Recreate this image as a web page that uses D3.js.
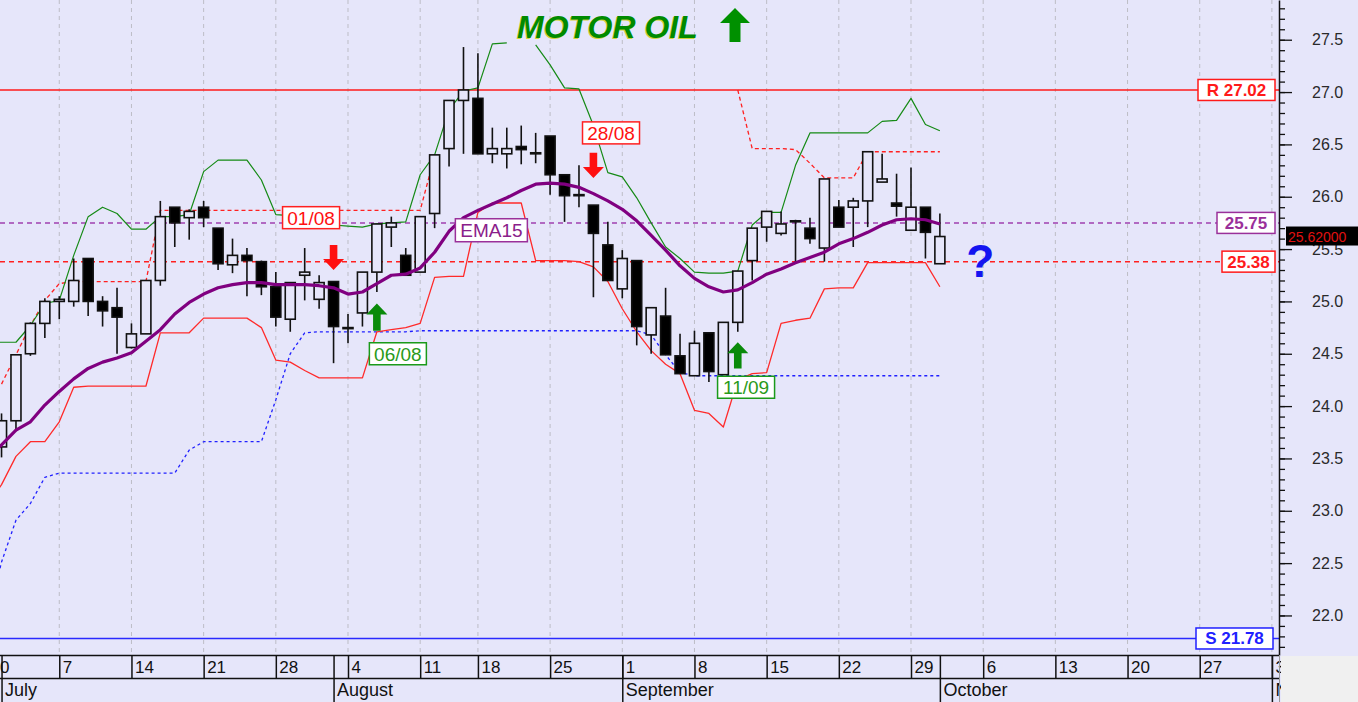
<!DOCTYPE html>
<html><head><meta charset="utf-8">
<script src="https://cdn.jsdelivr.net/npm/d3@7"></script>
<style>
body{margin:0;background:#fff;overflow:hidden}
svg{display:block}
text{font-family:"Liberation Sans",Arial,Helvetica,sans-serif}
</style>
</head><body>
<svg id="c" width="1358" height="702"></svg>
<script>
// ---------- DATA ----------
const firstDay = "2014-06-30", lastDay = "2014-11-03";
const holidays = ["2014-08-15"];
const title = "MOTOR OIL";

const openV  = [null,23.61,23.86,24.50,24.79,25.00,25.00,25.41,25.00,24.94,24.56,24.69,25.20,25.90,25.80,25.90,25.70,25.35,25.44,25.38,25.14,24.83,25.25,25.02,25.19,24.75,24.89,25.28,25.71,25.44,25.28,25.84,26.46,26.92,26.94,26.41,26.41,26.48,26.42,26.58,26.21,26.02,25.92,25.54,25.12,25.39,24.68,24.86,24.48,24.29,24.70,24.30,24.80,25.39,25.71,25.65,25.77,25.70,25.51,25.90,25.90,25.96,26.14,25.94,25.68,25.90,25.36];
const highV  = [null,23.93,24.49,24.80,25.03,25.05,25.41,25.41,25.05,25.13,24.79,25.20,25.96,25.90,25.88,25.96,25.70,25.60,25.51,25.39,25.28,25.18,25.51,25.25,25.19,24.88,25.28,25.74,25.81,25.51,25.81,26.40,26.92,27.43,27.37,26.66,26.66,26.68,26.61,26.58,26.21,26.30,25.92,25.76,25.49,25.39,24.94,25.13,24.69,24.72,24.70,24.80,25.29,25.70,25.86,25.86,25.78,25.80,26.17,25.97,25.99,26.43,26.41,26.22,26.28,25.90,25.84];
const lowV   = [null,23.51,23.76,24.48,24.65,24.83,24.95,24.86,24.76,24.50,24.55,24.69,25.15,25.52,25.59,25.71,25.30,25.27,25.05,25.06,24.76,24.71,25.01,24.93,24.41,24.60,24.76,25.09,25.52,25.25,25.28,25.70,26.29,26.41,26.41,26.32,26.27,26.31,26.32,26.02,25.76,25.90,25.04,25.20,25.03,24.58,24.50,24.49,24.31,24.29,24.23,24.30,24.71,25.20,25.57,25.63,25.38,25.55,25.38,25.71,25.52,25.71,26.14,25.81,25.68,25.41,25.36];
const closeV = [null,23.86,24.49,24.79,25.00,25.02,25.20,25.00,24.91,24.85,24.69,25.20,25.81,25.75,25.86,25.80,25.36,25.44,25.39,25.14,24.85,25.18,25.28,25.18,24.76,24.74,25.28,25.74,25.75,25.25,25.81,26.40,26.92,27.02,26.41,26.46,26.46,26.45,26.41,26.21,26.01,26.01,25.65,25.20,25.41,24.76,24.94,24.49,24.31,24.60,24.33,24.80,25.29,25.70,25.86,25.74,25.77,25.60,26.17,25.71,25.96,26.43,26.17,25.91,25.90,25.66,25.62];

const ema15 = [23.50,23.63,23.77,23.85,24.01,24.14,24.26,24.36,24.42,24.46,24.51,24.62,24.73,24.88,24.99,25.07,25.13,25.16,25.18,25.18,25.16,25.16,25.16,25.15,25.13,25.07,25.09,25.17,25.25,25.26,25.32,25.47,25.67,25.80,25.87,25.93,25.99,26.06,26.12,26.13,26.12,26.09,26.03,25.96,25.88,25.77,25.63,25.49,25.34,25.22,25.14,25.09,25.11,25.18,25.26,25.31,25.37,25.42,25.47,25.55,25.60,25.66,25.73,25.78,25.79,25.78,25.74];
const upperBand = [24.61,24.61,24.61,24.77,24.98,25.01,25.44,25.81,25.90,25.84,25.69,25.69,25.81,25.81,25.83,26.24,26.35,26.35,26.35,26.16,25.83,25.82,25.78,25.76,25.73,25.72,25.71,25.74,25.75,25.76,26.21,26.40,26.83,27.01,27.04,27.46,27.47,null,27.45,27.26,27.04,27.03,26.68,26.23,26.19,25.99,25.75,25.52,25.41,25.28,25.27,25.27,25.29,25.73,25.85,25.85,26.30,26.61,26.61,26.61,26.61,26.61,26.72,26.73,26.94,26.69,26.63];
const lowerBand = [23.05,23.25,23.52,23.66,23.66,23.85,24.18,24.19,24.19,24.19,24.19,24.19,24.70,24.70,24.70,24.84,24.84,24.84,24.84,24.75,24.44,24.42,24.34,24.27,24.27,24.27,24.27,24.71,24.73,24.75,24.79,25.23,25.24,25.24,25.85,25.94,25.94,25.94,25.39,25.39,25.39,25.38,25.33,25.19,24.93,24.71,24.53,24.40,24.31,23.96,23.93,23.80,24.25,24.31,24.32,24.79,24.82,24.84,25.12,25.13,25.13,25.37,25.37,25.37,25.37,25.37,25.14];
const stopRed = [null,24.21,24.49,24.77,25.01,25.17,25.19,25.19,25.19,25.19,25.19,25.19,25.87,25.87,25.87,25.87,25.87,25.87,25.87,25.87,25.87,25.87,25.87,25.87,25.87,25.87,25.87,25.87,25.87,25.87,25.87,26.39,
  null,null,null,null,null,null,null,null,null,null,null,null,null,null,null,null,null,null,null,null,
  27.02,26.46,26.46,26.46,26.45,26.32,26.18,26.18,26.18,26.43,26.43,26.43,26.43,26.43,26.43];
const stopBlue = [21.95,22.51,22.91,23.07,23.32,23.36,23.36,23.36,23.36,23.36,23.36,23.36,23.36,23.36,23.58,23.66,23.66,23.66,23.66,23.66,24.06,24.50,24.70,24.71,24.71,24.71,24.71,24.71,24.71,24.71,
  24.72,24.72,24.72,24.72,24.72,24.72,24.72,24.72,24.72,24.72,24.72,24.72,24.72,24.72,24.72,24.72,24.68,24.49,24.32,
  24.29,24.29,24.29,24.29,24.29,24.29,24.29,24.29,24.29,24.29,24.29,24.29,24.29,24.29,24.29,24.29,24.29,24.29];

const resistance = 27.02, support = 21.78, emaLevel = 25.75, stopLevel = 25.38, lastPrice = 25.62;
const signalIdx   = [24, 27, 42, 52];
const signalType  = ["sell", "buy", "sell", "buy"];
const signalText  = ["01/08", "06/08", "28/08", "11/09"];
const yTicks = [22.0,22.5,23.0,23.5,24.0,24.5,25.0,25.5,26.0,26.5,27.0,27.5];

// ---------- LAYOUT ----------
const W = 1358, H = 702, PR = 1279, PB = 655;
const LAV = "#e6e6fa";
const svg = d3.select("#c");
svg.append("rect").attr("width", W).attr("height", H).attr("fill", LAV);

const parse = d3.timeParse("%Y-%m-%d"), fmt = d3.timeFormat("%Y-%m-%d");
const days = d3.timeDay.range(parse(firstDay), d3.timeDay.offset(parse(lastDay), 1))
  .filter(d => d.getDay() !== 0 && d.getDay() !== 6 && !holidays.includes(fmt(d)));
const N = days.length;
const STEP = 14.436, X0 = -12.9;
const x = d3.scaleLinear().domain([0, N - 1]).range([X0, X0 + (N - 1) * STEP]);
const y = d3.scaleLinear().domain([21.6222, 27.8795]).range([PB, 0]);

const weekIdx = d3.range(N).filter(i => days[i].getDay() === 1);
const monthIdx = d3.range(1, N).filter(i => days[i].getMonth() !== days[i - 1].getMonth());

svg.append("defs").append("clipPath").attr("id", "clip")
  .append("rect").attr("x", 0).attr("y", 0).attr("width", PR).attr("height", PB);
const plot = svg.append("g").attr("clip-path", "url(#clip)");

// grid
plot.selectAll("line.grid").data(weekIdx).join("line")
  .attr("x1", i => x(i)).attr("x2", i => x(i)).attr("y1", 0).attr("y2", PB)
  .attr("stroke", "#bdbdc6").attr("stroke-width", 1).attr("stroke-dasharray", "4,4");

// level lines
function hline(v, color, dash, w) {
  plot.append("line").attr("x1", 0).attr("x2", PR).attr("y1", y(v)).attr("y2", y(v))
    .attr("stroke", color).attr("stroke-width", w).attr("stroke-dasharray", dash);
}
hline(resistance, "#ff1a1a", null, 1.5);
hline(support, "#2a2aff", null, 1.5);
hline(emaLevel, "#a040b0", "5,4", 1.5);
hline(stopLevel, "#ff2020", "5,4", 1.5);

const line = d3.line().defined(d => d != null).x((d, i) => x(i)).y(d => y(d));
function series(arr, color, w, dash) {
  plot.append("path").attr("d", line(arr)).attr("fill", "none")
    .attr("stroke", color).attr("stroke-width", w).attr("stroke-dasharray", dash)
    .attr("stroke-linejoin", "round");
}
series(stopBlue, "#2020ff", 1.3, "3,3");
series(stopRed, "#ff2020", 1.3, "4,3");
series(lowerBand, "#ff2a2a", 1.3, null);
series(upperBand, "#158a15", 1.2, null);

// candles
const cIdx = d3.range(openV.length).filter(i => openV[i] != null);
const cg = plot.append("g");
cg.selectAll("line.wick").data(cIdx).join("line")
  .attr("x1", i => x(i)).attr("x2", i => x(i))
  .attr("y1", i => y(highV[i])).attr("y2", i => y(lowV[i]))
  .attr("stroke", "#111").attr("stroke-width", 1.6);
cg.selectAll("rect.body").data(cIdx).join("rect")
  .attr("x", i => x(i) - 5).attr("width", 10)
  .attr("y", i => y(Math.max(openV[i], closeV[i])))
  .attr("height", i => Math.max(1, Math.abs(y(openV[i]) - y(closeV[i]))))
  .attr("fill", i => closeV[i] < openV[i] ? "#000" : LAV)
  .attr("stroke", "#111").attr("stroke-width", 1.6);

// EMA
series(ema15, "#800080", 3.2, null);

// signals
function arrowPath(cx, yTop, yTip, up) {
  const sw = 3.8, hw = 10.5, hh = 11;
  if (!up) {
    return `M${cx-sw},${yTop}L${cx+sw},${yTop}L${cx+sw},${yTip-hh}L${cx+hw},${yTip-hh}L${cx},${yTip}L${cx-hw},${yTip-hh}L${cx-sw},${yTip-hh}Z`;
  }
  return `M${cx-sw},${yTop}L${cx+sw},${yTop}L${cx+sw},${yTip+hh}L${cx+hw},${yTip+hh}L${cx},${yTip}L${cx-hw},${yTip+hh}L${cx-sw},${yTip+hh}Z`;
}
const arrowTopVal = {sell: [25.54, 26.42], buy: [24.72, 24.36]};
const arrowTipVal = {sell: [25.30, 26.18], buy: [24.98, 24.61]};
const labelDx = [-22.5, 21, 17.6, 8.3];
const labelYv = [25.80, 24.50, 26.61, 24.18];
let sellK = 0, buyK = 0;
signalIdx.forEach((idx, k) => {
  const t = signalType[k];
  const n = t === "sell" ? sellK++ : buyK++;
  const col = t === "sell" ? "#ff1010" : "#0a8a0a";
  const top = t === "sell" ? y(arrowTopVal.sell[n]) : y(arrowTopVal.buy[n]);
  const tip = t === "sell" ? y(arrowTipVal.sell[n]) : y(arrowTipVal.buy[n]);
  svg.append("path").attr("d", arrowPath(x(idx), top, tip, t === "buy")).attr("fill", col);
  const cx = x(idx) + labelDx[k], cy = y(labelYv[k]);
  const bw = 57, bh = 22;
  svg.append("rect").attr("x", cx - bw / 2).attr("y", cy - bh / 2).attr("width", bw).attr("height", bh)
    .attr("fill", "#fff").attr("stroke", t === "sell" ? "#ff2020" : "#1a9a1a").attr("stroke-width", 1.5);
  svg.append("text").attr("x", cx).attr("y", cy + 7).attr("text-anchor", "middle")
    .attr("font-size", 19).attr("fill", t === "sell" ? "#ff1010" : "#2a9a1a").text(signalText[k]);
});

// EMA15 label
{
  const cx = x(35) - 1, cy = y(25.68);
  svg.append("rect").attr("x", cx - 36).attr("y", cy - 11.5).attr("width", 72).attr("height", 23)
    .attr("fill", "#fff").attr("stroke", "#9a309a").attr("stroke-width", 1.5);
  svg.append("text").attr("x", cx).attr("y", cy + 7).attr("text-anchor", "middle")
    .attr("font-size", 19).attr("fill", "#8a208a").text("EMA15");
}

// question mark
svg.append("text").attr("x", x(69) - 3).attr("y", y(25.23)).attr("text-anchor", "middle")
  .attr("font-size", 46).attr("font-weight", "bold").attr("fill", "#1414f0").text("?");

// title
svg.append("text").attr("x", 516.3).attr("y", 38.7).attr("font-size", 32).attr("font-weight", "bold")
  .attr("font-style", "italic").attr("fill", "#d2d23c").text(title);
svg.append("text").attr("x", 517).attr("y", 38).attr("font-size", 32).attr("font-weight", "bold")
  .attr("font-style", "italic").attr("fill", "#008a00").text(title);
svg.append("path").attr("d", "M735,8L750,23L740.5,23L740.5,42L729.5,42L729.5,23L720,23Z").attr("fill", "#009000");

// right value boxes
function valBox(v, txt, color, right, w) {
  const cy = y(v);
  svg.append("rect").attr("x", right - w).attr("y", cy - 10.5).attr("width", w).attr("height", 21)
    .attr("fill", "#fff").attr("stroke", color).attr("stroke-width", 1.5);
  svg.append("text").attr("x", right - w / 2).attr("y", cy + 6).attr("text-anchor", "middle")
    .attr("font-size", 17).attr("font-weight", "bold").attr("fill", color).text(txt);
}
valBox(resistance, "R " + resistance.toFixed(2), "#ff1a1a", 1275, 77);
valBox(emaLevel, emaLevel.toFixed(2), "#9a309a", 1275, 58);
valBox(stopLevel, stopLevel.toFixed(2), "#ff1a1a", 1275, 53);
valBox(support, "S " + support.toFixed(2), "#2020ff", 1273, 77);

// y axis
const yAxisG = svg.append("g").attr("transform", `translate(${PR},0)`);
yAxisG.call(d3.axisRight(y).tickValues(d3.range(217, 279).map(v => v / 10)).tickSize(6).tickSizeOuter(0).tickFormat(""));
yAxisG.call(g => g.select(".domain").remove());
const yMajor = svg.append("g").attr("transform", `translate(${PR},0)`)
  .call(d3.axisRight(y).tickValues(yTicks).tickSize(13).tickSizeOuter(0).tickPadding(20).tickFormat(d3.format(".1f")));
yMajor.selectAll("text").attr("font-size", 16).attr("fill", "#2a2a2a").attr("font-family", '"Liberation Sans",Arial,sans-serif');
svg.selectAll(".tick line").attr("stroke", "#111").attr("stroke-width", 1.3);
yMajor.select(".domain").attr("stroke", "#111").attr("stroke-width", 1.5);

// last price box
svg.append("rect").attr("x", 1286).attr("y", y(lastPrice) - 10).attr("width", 72).attr("height", 19).attr("fill", "#000");
svg.append("text").attr("x", 1288).attr("y", y(lastPrice) + 5).attr("font-size", 14).attr("fill", "#e01010")
  .text(lastPrice.toFixed(5));

// x axis rows
const xa = svg.append("g");
xa.append("line").attr("x1", 0).attr("x2", PR + 1).attr("y1", PB + 0.5).attr("y2", PB + 0.5).attr("stroke", "#111").attr("stroke-width", 1.5);
xa.append("line").attr("x1", 0).attr("x2", PR + 1).attr("y1", 678.5).attr("y2", 678.5).attr("stroke", "#111").attr("stroke-width", 1.5);
const dayAxis = xa.append("g").attr("transform", `translate(0,${PB})`)
  .call(d3.axisBottom(x).tickValues(weekIdx).tickSize(23).tickSizeOuter(0).tickFormat(i => days[i].getDate()));
dayAxis.select(".domain").remove();
dayAxis.selectAll(".tick line").attr("stroke", "#111").attr("stroke-width", 1.5);
dayAxis.selectAll(".tick text").attr("text-anchor", "start").attr("x", 3).attr("y", 4).attr("dy", "0.85em")
  .attr("font-size", 17).attr("fill", "#111").attr("font-family", '"Liberation Sans Narrow","Liberation Sans",Arial,sans-serif');
const monAxis = xa.append("g").attr("transform", `translate(0,${PB})`)
  .call(d3.axisBottom(x).tickValues(monthIdx).tickSize(H - PB).tickSizeOuter(0).tickFormat(i => d3.timeFormat("%B")(days[i])));
monAxis.select(".domain").remove();
monAxis.selectAll(".tick line").attr("stroke", "#111").attr("stroke-width", 1.5);
monAxis.selectAll(".tick text").attr("text-anchor", "start").attr("x", 3).attr("y", 26).attr("dy", "0.85em")
  .attr("font-size", 18).attr("fill", "#111").attr("font-family", '"Liberation Sans Narrow","Liberation Sans",Arial,sans-serif');
svg.append("rect").attr("x", 1281).attr("y", 656).attr("width", W - 1281).attr("height", H - 656).attr("fill", "#f0f0f0");
xa.append("line").attr("x1", PR + 0.5).attr("x2", PR + 0.5).attr("y1", PB).attr("y2", H).attr("stroke", "#999").attr("stroke-width", 1);
</script>
</body></html>
